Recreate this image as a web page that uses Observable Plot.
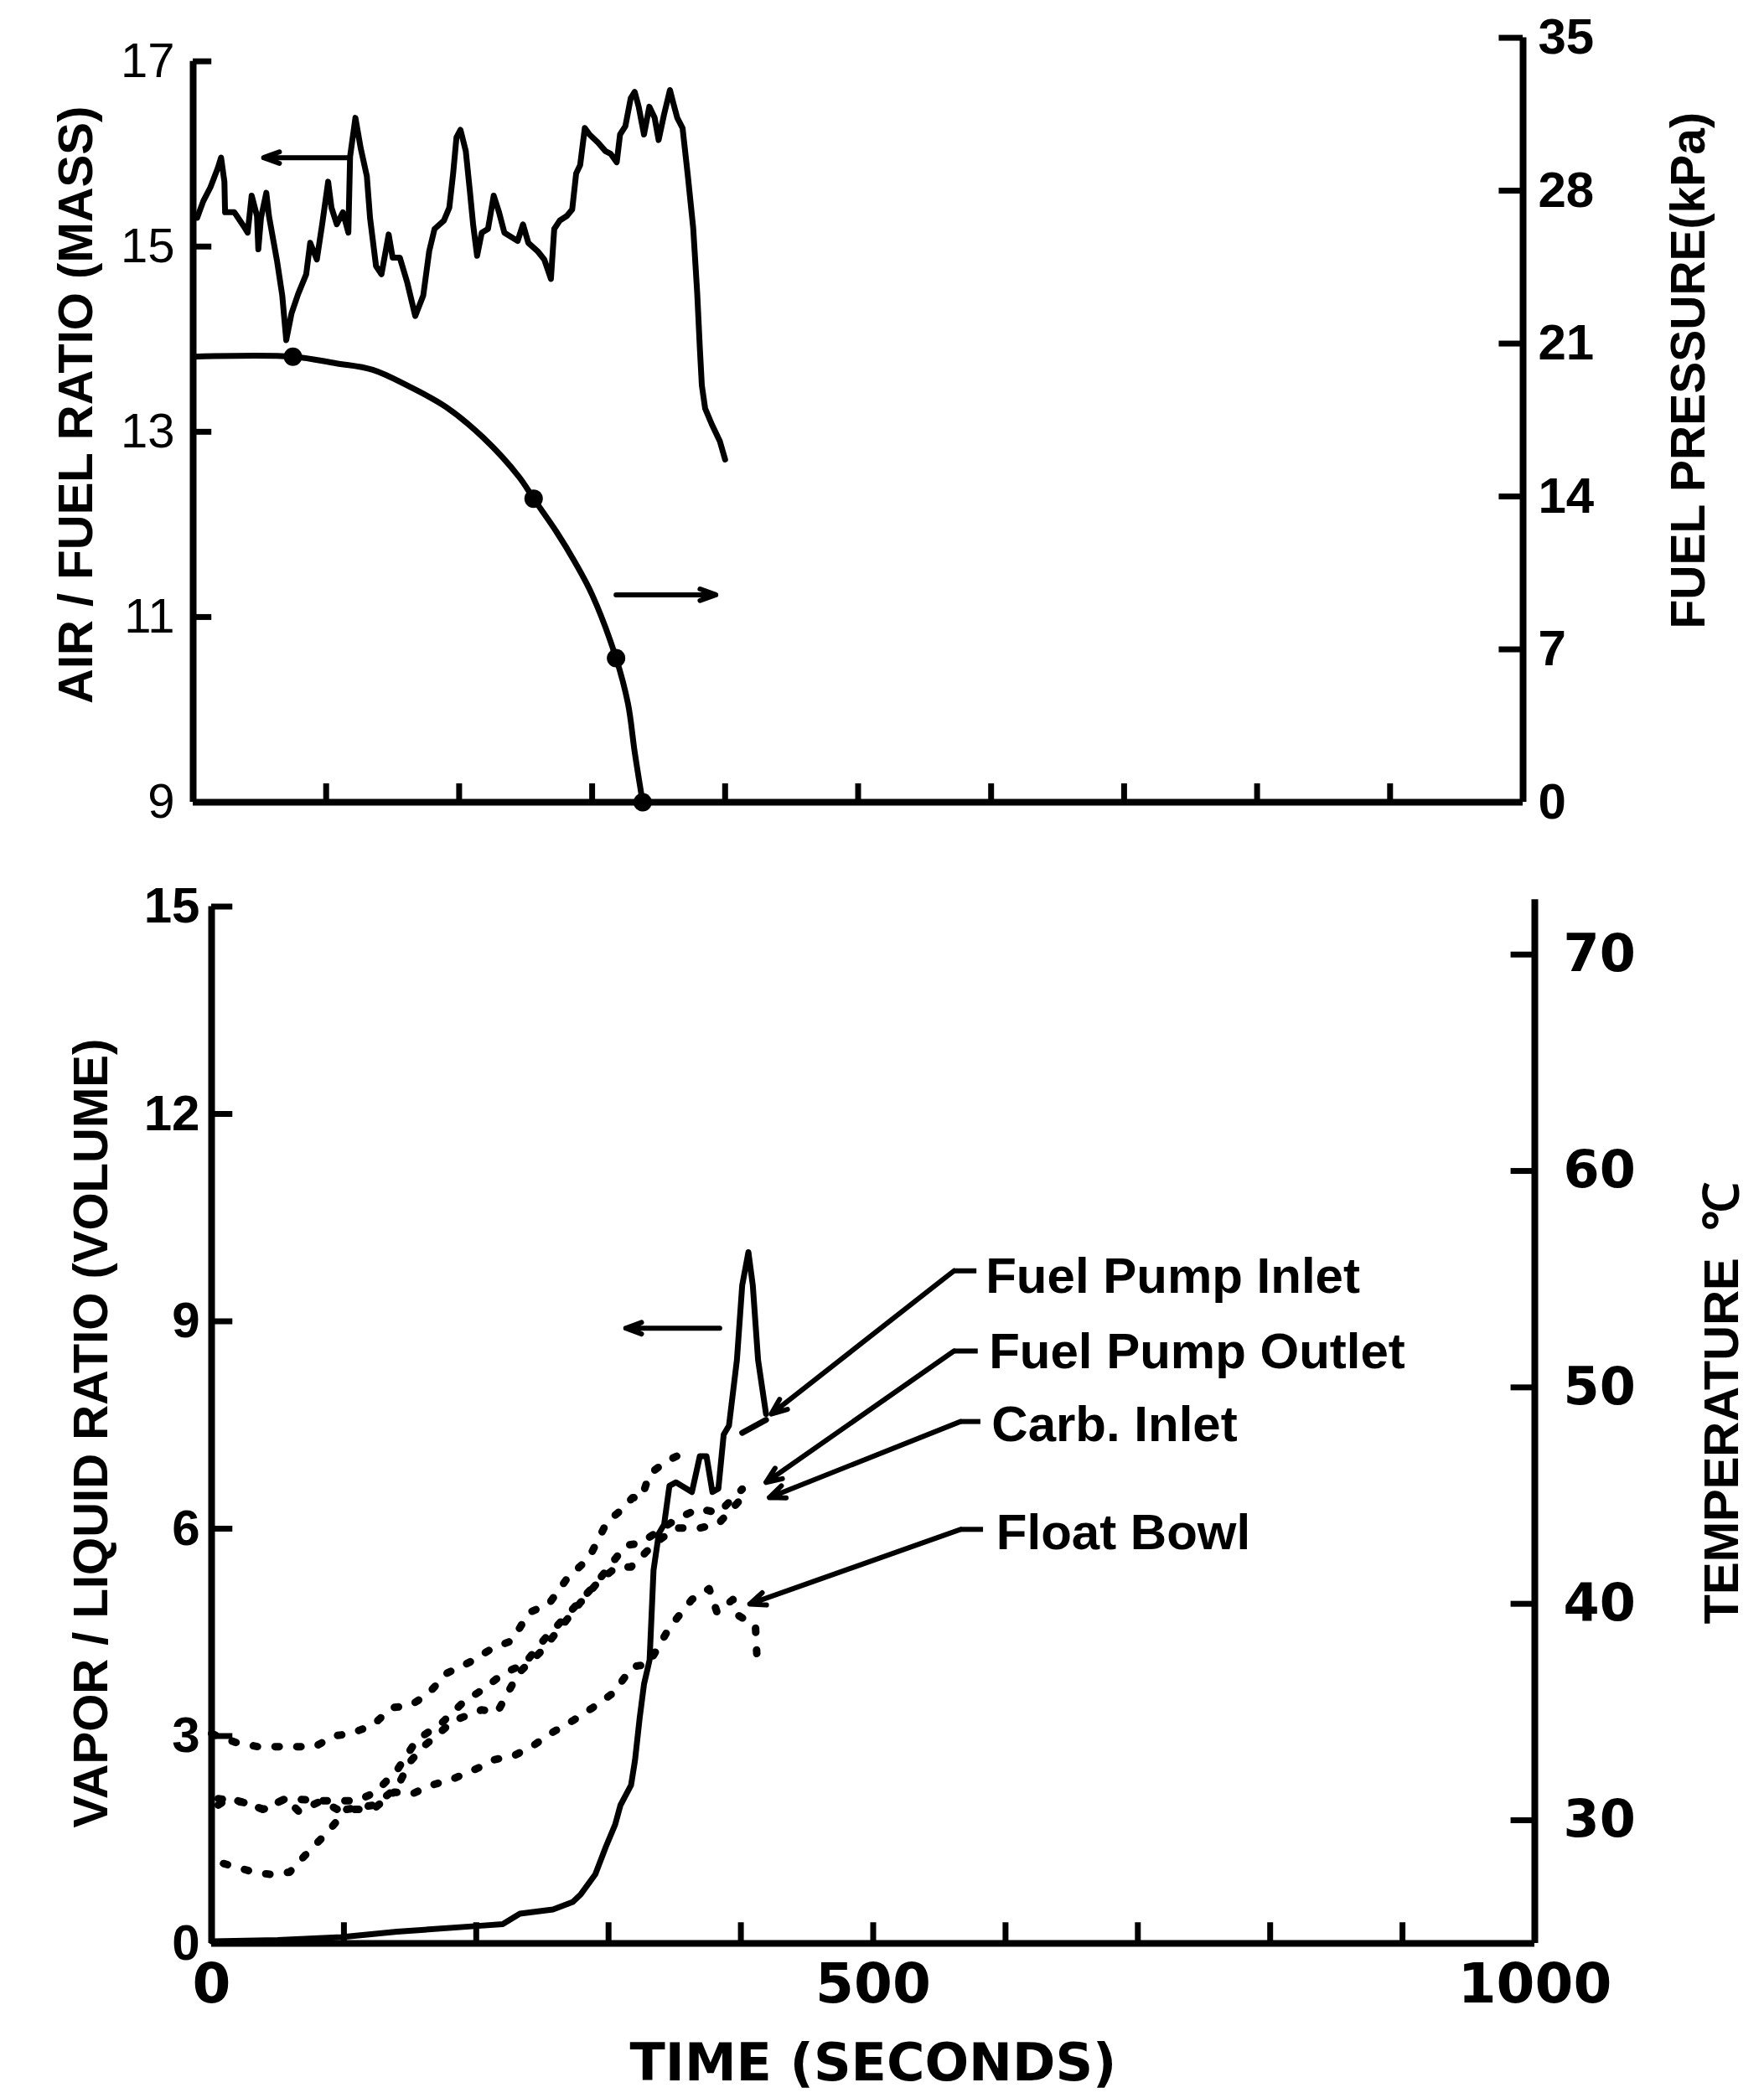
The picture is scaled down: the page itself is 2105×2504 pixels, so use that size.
<!DOCTYPE html>
<html><head><meta charset="utf-8">
<script src="https://cdn.jsdelivr.net/npm/d3@7"></script>
<script src="https://cdn.jsdelivr.net/npm/@observablehq/plot@0.6"></script>
<style>
html,body{margin:0;padding:0;background:#fff;}
#chart{position:relative;width:2105px;height:2504px;background:#fff;overflow:hidden;}
#chart svg{position:absolute;left:0;}
</style></head><body><div id="chart"></div>
<script>
// ---------- tick values ----------
const afrTicks = [9, 11, 13, 15, 17];
const pressureTicks = [0, 7, 14, 21, 28, 35];
const vlTicks = [0, 3, 6, 9, 12, 15];
const tempTicks = [30, 40, 50, 60, 70];
const timeTicks = [100, 200, 300, 400, 500, 600, 700, 800, 900];
const timeLabels = [0, 500, 1000];

// ---------- top panel: air/fuel ratio (mass) vs time (s) ----------
const airFuel = [[3,15.31],[7.6,15.49],[13,15.64],[18.6,15.85],[21,15.96],[23.5,15.70],[24,15.37],[31,15.37],[38,15.22],[41,15.15],[44,15.55],[48,15.33],[49,14.97],[51,15.31],[55,15.58],[57,15.33],[63,14.85],[67,14.47],[70,13.99],[74,14.28],[79,14.49],[85,14.70],[88,15.04],[93,14.86],[97,15.24],[101.5,15.70],[104,15.42],[108,15.24],[112.6,15.37],[116.7,15.15],[118,15.97],[122,16.39],[126,16.06],[130.6,15.76],[133,15.31],[137.5,14.79],[141.6,14.70],[147,15.13],[150,14.88],[155.4,14.88],[161,14.61],[167,14.25],[173,14.47],[177.5,14.95],[181.5,15.19],[188.5,15.28],[192.6,15.42],[195.5,15.79],[198,16.18],[201,16.26],[205,16.03],[208,15.61],[210.5,15.24],[213.5,14.90],[217,15.15],[221.7,15.19],[226,15.55],[230,15.37],[234,15.15],[244,15.06],[248,15.24],[252,15.04],[259,14.95],[264,14.86],[269,14.65],[271.5,15.19],[275.6,15.28],[281,15.33],[285,15.40],[288,15.79],[291,15.88],[294.5,16.28],[298,16.21],[304.6,16.12],[310,16.03],[314,16.00],[318.5,15.91],[321,16.21],[325,16.30],[329,16.60],[332,16.67],[335,16.51],[339,16.21],[343,16.51],[347,16.39],[350,16.15],[354,16.42],[358.5,16.69],[361,16.55],[364,16.39],[368,16.28],[372,15.76],[376,15.2],[379,14.5],[381,13.9],[382.5,13.5],[385,13.25],[390,13.08],[396,12.9],[400,12.7]];

// ---------- top panel: fuel pressure (kPa) vs time (s) ----------
const fuelPressure = [[0,20.4],[75,20.4],[107,20.1],[135,19.8],[162,19.05],[190,18.1],[218,16.7],[245,14.9],[256,13.9],[273,12.4],[287,11.0],[300,9.5],[318,6.6],[327,4.5],[332,2.3],[338,0]];
const pressureMarkers = [[75,20.4],[256,13.9],[318,6.6],[338,0]];

// ---------- bottom panel: vapor/liquid ratio (volume) vs time (s) ----------
const vaporLiquid = [[0,0.03],[50,0.05],[98,0.09],[140,0.17],[199,0.25],[220,0.28],[233,0.43],[258,0.49],[273,0.6],[279,0.71],[290,1.0],[298,1.4],[305,1.72],[309,2.0],[317,2.29],[320,2.65],[323.5,3.26],[326.8,3.75],[331,4.1],[334,5.4],[338,5.93],[342,6.06],[346,6.62],[351,6.67],[363,6.53],[369,7.05],[374,7.05],[378.5,6.53],[383,6.58],[387,7.36],[391,7.49],[397,8.44],[401,9.52],[405.7,10.0],[409,9.52],[413,8.44],[419,7.66]];

// ---------- bottom panel: temperatures (°C) vs time (s) ----------
const tempFuelPumpInlet = [[0,34.0],[18,33.6],[35,33.4],[46,33.4],[63,33.4],[78,33.4],[93,33.9],[105,34.0],[122,34.4],[136,35.2],[150,35.3],[163,35.8],[178,36.8],[195,37.3],[211,37.9],[227,38.3],[240,39.6],[255,40.0],[269,41.2],[285,42.1],[299,43.8],[311,44.4],[318,44.9],[325,44.9],[331,46.0],[344,46.6],[361,47.1]];
const tempFuelPumpInletTail = [[401,47.9],[419,48.5]];
const tempFuelPumpOutlet = [[5,31.0],[26,30.8],[39,30.5],[56,31.0],[83,30.9],[110,30.9],[124,31.3],[140,32.3],[155,33.7],[174,34.5],[191,35.5],[204,36.0],[221,36.8],[236,37.2],[252,38.4],[266,39.3],[290,40.9],[313,42.7],[324,42.8],[351,43.9],[368,44.4],[383,44.2],[401,45.3]];
const tempCarbInlet = [[9,28.0],[32,27.6],[44,27.5],[59,27.6],[74,28.6],[87,29.4],[102,30.5],[123,30.7],[140,31.5],[150,32.7],[160,33.4],[183,34.6],[204,35.1],[216,35.0],[232,36.8],[249,37.8],[265,39.0],[278,40.0],[292,41.0],[306,41.7],[317,41.7],[335,42.8],[351,43.5],[369,43.5],[383,43.7],[401,44.9]];
const tempFloatBowl = [[5,30.7],[13,31.0],[26,30.8],[39,30.5],[56,31.0],[66,30.4],[83,30.9],[95,30.5],[111,30.5],[124,30.6],[138,31.3],[151,31.2],[165,31.6],[182,31.9],[201,32.4],[214,32.8],[229,33.0],[242,33.4],[256,34.0],[273,34.6],[288,35.2],[304,35.9],[318,37.1],[330,37.2],[346,38.9],[363,40.2],[376,40.7],[382,39.6],[394,40.2],[397,39.5],[411,39.0],[412,37.7]];

const seriesLabels = ["Fuel Pump Inlet", "Fuel Pump Outlet", "Carb. Inlet", "Float Bowl"];

// ---------- axis relations (twin axes) ----------
const AFR_TOP = 17.254;                         // AFR value level with 35 kPa
const P2AFR = p => 9 + p * (AFR_TOP - 9) / 35;  // kPa -> left-axis units
const AFR2P = v => (v - 9) * 35 / (AFR_TOP - 9);
const T2VL = T => 1.782 + (T - 30) * 0.3131;    // °C -> left-axis units
const VL2T = v => 30 + (v - 1.782) / 0.3131;

// ---------- annotation layout (data units) ----------
const labelPos = [
  {text: seriesLabels[0], t: 585, v: 9.65},
  {text: seriesLabels[1], t: 587.5, v: 8.55},
  {text: seriesLabels[2], t: 589.5, v: 7.50},
  {text: seriesLabels[3], t: 593, v: 5.93}
];
const leaders = [
  {h: [578, 9.73], b: [561, 9.73], e: [423, 7.66]},
  {h: [579, 8.57], b: [561, 8.57], e: [419, 6.67]},
  {h: [581, 7.55], b: [566, 7.55], e: [421.5, 6.45]},
  {h: [583, 5.99], b: [566, 5.99], e: [406.7, 4.91]}
];
const directionArrowsTop = [{x1: 117, x2: 53, y: 15.96}, {x1: 318, x2: 393, y: 11.24}];
const directionArrowsBottom = [{x1: 384, x2: 313, y: 8.9}];

const FONT = "Liberation Sans, Arial, sans-serif";
const WIDE = "DejaVu Sans, Verdana, sans-serif";
const AX = 8, TK = 7, LN = 7;
const X = d => d[0];

const topPlot = Plot.plot({
  width: 2105, height: 1000,
  marginLeft: 230, marginRight: 288, marginTop: 44.6, marginBottom: 43,
  x: {domain: [0, 1000], axis: null},
  y: {domain: [9, AFR_TOP], axis: null},
  style: {background: "white", color: "black", overflow: "visible"},
  marks: [
    Plot.ruleY([9], {x1: 0, x2: 1000, strokeWidth: AX}),
    Plot.ruleX([0], {y1: 9, y2: 17, strokeWidth: AX}),
    Plot.ruleX([1000], {y1: 9, y2: AFR_TOP, strokeWidth: AX}),
    Plot.ruleY(afrTicks, {x1: 0, x2: 14, strokeWidth: TK}),
    Plot.ruleY(pressureTicks, {y: P2AFR, x1: 982, x2: 1000, strokeWidth: TK}),
    Plot.ruleX(timeTicks, {y1: 9, y2: 9.2, strokeWidth: TK}),
    Plot.axisY(afrTicks, {anchor: "left", tickSize: 0, tickPadding: 22, fontSize: 58, fontFamily: FONT, label: null, tickFormat: d => String(d)}),
    Plot.axisY(pressureTicks.map(P2AFR), {anchor: "right", tickSize: 0, tickPadding: 18, fontSize: 60, fontWeight: "bold", fontFamily: FONT, label: null, tickFormat: v => String(Math.round(AFR2P(v)))}),
    Plot.text(["AIR / FUEL RATIO (MASS)"], {frameAnchor: "left", dx: -139, dy: -18, rotate: -90, textAnchor: "middle", lineAnchor: "middle", fontSize: 58, fontWeight: "bold", fontFamily: FONT, ariaLabel: "title-afr"}),
    Plot.text(["FUEL PRESSURE(kPa)"], {frameAnchor: "right", dx: 198, dy: -59, rotate: -90, textAnchor: "middle", lineAnchor: "middle", fontSize: 57, fontWeight: "bold", fontFamily: FONT, ariaLabel: "title-press"}),
    Plot.line(airFuel, {x: X, y: d => d[1], strokeWidth: LN, strokeLinejoin: "round"}),
    Plot.line(fuelPressure, {x: X, y: d => P2AFR(d[1]), strokeWidth: LN, curve: "catmull-rom"}),
    Plot.dot(pressureMarkers, {x: X, y: d => P2AFR(d[1]), r: 11, fill: "black", stroke: null}),
    Plot.arrow(directionArrowsTop, {x1: "x1", x2: "x2", y1: "y", y2: "y", strokeWidth: 6, headLength: 5, headAngle: 40})
  ]
});

const bottomPlot = Plot.plot({
  width: 2105, height: 1504,
  marginLeft: 252, marginRight: 274, marginTop: 81.5, marginBottom: 185,
  x: {domain: [0, 1000], axis: null},
  y: {domain: [0, 15], axis: null},
  style: {background: "white", color: "black", overflow: "visible"},
  marks: [
    Plot.ruleY([0], {x1: 0, x2: 1000, strokeWidth: AX}),
    Plot.ruleX([0], {y1: 0, y2: 15, strokeWidth: AX}),
    Plot.ruleX([1000], {y1: 0, y2: 15.1, strokeWidth: AX}),
    Plot.ruleY(vlTicks, {x1: 0, x2: 16, strokeWidth: TK}),
    Plot.ruleY(tempTicks, {y: T2VL, x1: 982, x2: 1000, strokeWidth: TK}),
    Plot.ruleX(timeTicks, {y1: 0, y2: 0.3, strokeWidth: TK}),
    Plot.axisY(vlTicks, {anchor: "left", tickSize: 0, tickPadding: 14, fontSize: 60, fontWeight: "bold", fontFamily: FONT, label: null, tickFormat: d => String(d)}),
    Plot.axisY(tempTicks.map(T2VL), {anchor: "right", tickSize: 0, tickPadding: 34, fontSize: 62, fontWeight: "bold", fontFamily: WIDE, label: null, tickFormat: v => String(Math.round(VL2T(v)))}),
    Plot.axisX(timeLabels, {anchor: "bottom", tickSize: 0, tickPadding: 24, fontSize: 66, fontWeight: "bold", fontFamily: WIDE, label: null, tickFormat: d => String(d)}),
    Plot.text(["TIME (SECONDS)"], {frameAnchor: "bottom", dy: 144, lineAnchor: "middle", textAnchor: "middle", fontSize: 62, fontWeight: "bold", fontFamily: WIDE}),
    Plot.text(["VAPOR / LIQUID RATIO (VOLUME)"], {frameAnchor: "left", dx: -143, dy: 10, rotate: -90, textAnchor: "middle", lineAnchor: "middle", fontSize: 58, fontWeight: "bold", fontFamily: FONT, ariaLabel: "title-vl"}),
    Plot.text(["TEMPERATURE  ℃"], {frameAnchor: "right", dx: 224, dy: -26, rotate: -90, textAnchor: "middle", lineAnchor: "middle", fontSize: 58, fontWeight: "bold", fontFamily: FONT, ariaLabel: "title-temp"}),
    // temperature traces (dotted)
    ...[tempFuelPumpInlet, tempFuelPumpOutlet, tempCarbInlet, tempFloatBowl].map(s =>
      Plot.line(s, {x: X, y: d => T2VL(d[1]), strokeWidth: 9, strokeDasharray: "5,21", strokeLinecap: "round"})),
    Plot.line(tempFuelPumpInletTail, {x: X, y: d => T2VL(d[1]), strokeWidth: LN}),
    // vapor/liquid ratio (solid)
    Plot.line(vaporLiquid, {x: X, y: d => d[1], strokeWidth: LN, strokeLinejoin: "round"}),
    Plot.arrow(directionArrowsBottom, {x1: "x1", x2: "x2", y1: "y", y2: "y", strokeWidth: 6, headLength: 5, headAngle: 40}),
    // leaders
    Plot.link(leaders, {x1: d => d.h[0], y1: d => d.h[1], x2: d => d.b[0], y2: d => d.b[1], strokeWidth: 6}),
    Plot.arrow(leaders, {x1: d => d.b[0], y1: d => d.b[1], x2: d => d.e[0], y2: d => d.e[1], strokeWidth: 6, headLength: 5, headAngle: 45}),
    Plot.text(labelPos, {x: "t", y: "v", text: "text", textAnchor: "start", lineAnchor: "middle", fontSize: 60, fontWeight: "bold", fontFamily: FONT})
  ]
});

const chart = document.getElementById("chart");
topPlot.style.top = "0px";
bottomPlot.style.top = "1000px";
chart.appendChild(topPlot);
chart.appendChild(bottomPlot);

// letter spacing / glyph height tweaks for the rotated axis titles
d3.select(topPlot).selectAll('g[aria-label="title-afr"] text').attr("letter-spacing", "2px");
d3.select(bottomPlot).selectAll('g[aria-label="title-vl"] text').attr("letter-spacing", "2px");
[[topPlot, "title-press"], [bottomPlot, "title-temp"]].forEach(([svg, name]) => {
  d3.select(svg).selectAll(`g[aria-label="${name}"] text`).each(function () {
    const t = d3.select(this);
    t.attr("transform", (t.attr("transform") || "") + " scale(1,1.2)");
  });
});
</script></body></html>
